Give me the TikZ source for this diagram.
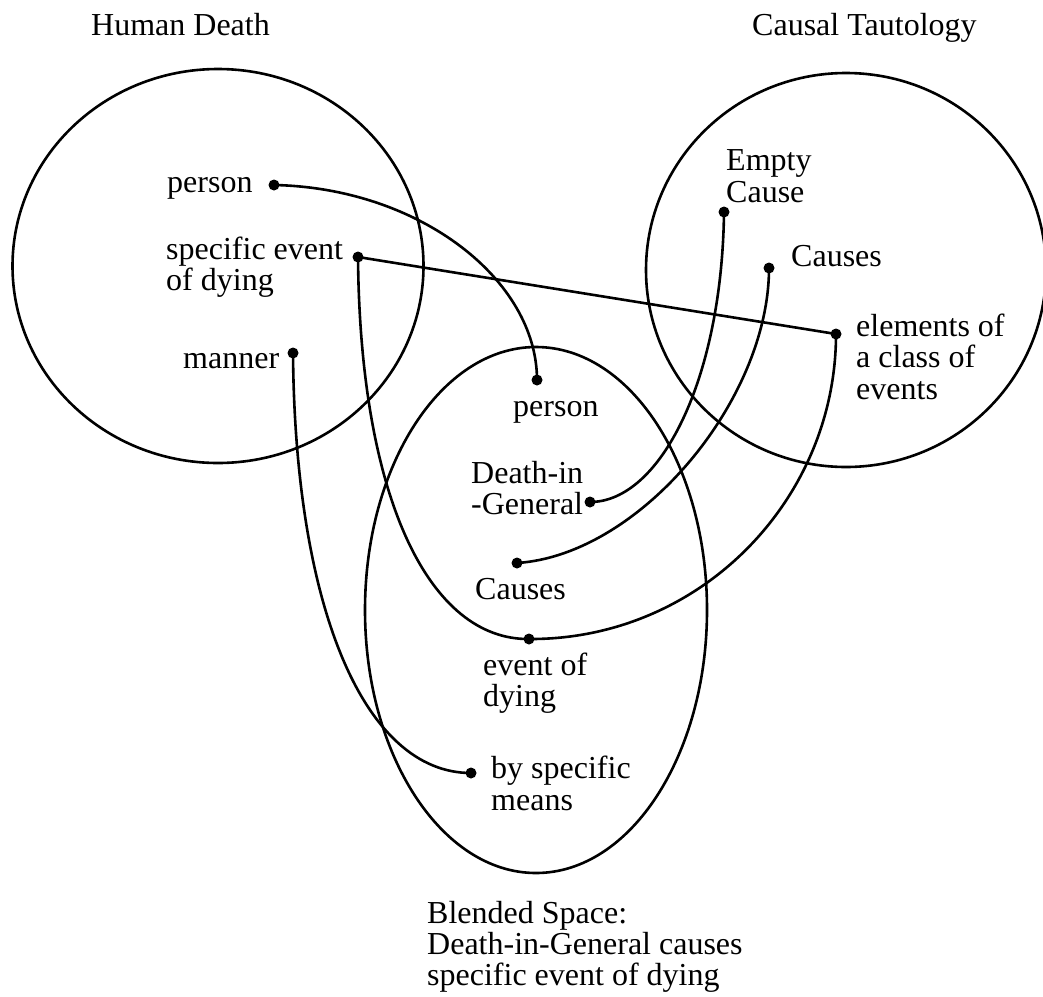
\documentclass[tikz,border=0pt]{standalone}
\usepackage{fontspec}
\setmainfont{Liberation Serif}
\newcommand\mltext[1]{\begin{tabular}[t]{@{}l@{}}#1\end{tabular}}
\begin{document}
\begin{tikzpicture}[x=1pt,y=-1pt,
  dot/.style={circle,fill=black,inner sep=0pt,minimum size=11pt},
  lbl/.style={anchor=base west,inner sep=0pt,font=\fontsize{32}{31}\selectfont},
  spacering/.style={draw,line width=2.6pt},
  link/.style={line width=2.6pt}]
\useasboundingbox (0,0) rectangle (1043,996);

% mental spaces
\draw[spacering] (218,266) ellipse [x radius=205.5pt, y radius=197pt];
\draw[spacering] (846,270) ellipse [x radius=200pt, y radius=197pt];
\draw[spacering] (536,610) ellipse [x radius=171pt, y radius=263pt];

% titles
\node[lbl] (tHD) at (91,35) {Human Death};
\node[lbl] (tCT) at (752,35) {Causal Tautology};
\node[lbl,font=\fontsize{32}{30}\selectfont] (tBS) at (427,923) {\mltext{Blended Space:\\Death-in-General causes\\specific event of dying}};

% dots
\node[dot] (hPerson) at (274,185) {};
\node[dot] (hEvent) at (358,257) {};
\node[dot] (hManner) at (293,353) {};
\node[dot] (cEmpty) at (724,212) {};
\node[dot] (cCauses) at (769,268) {};
\node[dot] (cElem) at (836,334) {};
\node[dot] (bPerson) at (537,380) {};
\node[dot] (bDeath) at (590,502) {};
\node[dot] (bCauses) at (517,563) {};
\node[dot] (bEvent) at (529,639) {};
\node[dot] (bMeans) at (471,773) {};

% labels
\node[lbl] (lhPerson) at (167,192) {person};
\node[lbl,font=\fontsize{32}{30}\selectfont] (lhEvent) at (166,259) {\mltext{specific event\\of dying}};
\node[lbl] (lhManner) at (183,368) {manner};
\node[lbl,font=\fontsize{32}{32}\selectfont] (lcEmpty) at (726,170) {\mltext{Empty\\Cause}};
\node[lbl] (lcCauses) at (791,266) {Causes};
\node[lbl,font=\fontsize{32}{31.5}\selectfont] (lcElem) at (856,336) {\mltext{elements of\\a class of\\events}};
\node[lbl] (lbPerson) at (513,416) {person};
\node[lbl,font=\fontsize{32}{30}\selectfont] (lbDeath) at (471,483) {\mltext{Death-in\\-General}};
\node[lbl] (lbCauses) at (475,599) {Causes};
\node[lbl,font=\fontsize{32}{30}\selectfont] (lbEvent) at (483,675) {\mltext{event of\\dying}};
\node[lbl,font=\fontsize{32}{32}\selectfont] (lbMeans) at (491,778) {\mltext{by specific\\means}};

% connectors
\draw[link] (hPerson.center) .. controls (420,188) and (537,280) .. (bPerson.center);
\draw[link] (hEvent.center) -- (cElem.center);
\draw[link] (hEvent.center) .. controls (360,500) and (430,640) .. (bEvent.center);
\draw[link] (bEvent.center) .. controls (700,640) and (836,500) .. (cElem.center);
\draw[link] (cEmpty.center) .. controls (722,380) and (660,502) .. (bDeath.center);
\draw[link] (cCauses.center) .. controls (769,400) and (640,555) .. (bCauses.center);
\draw[link] (hManner.center) .. controls (295,610) and (365,773) .. (bMeans.center);
\end{tikzpicture}
\end{document}
